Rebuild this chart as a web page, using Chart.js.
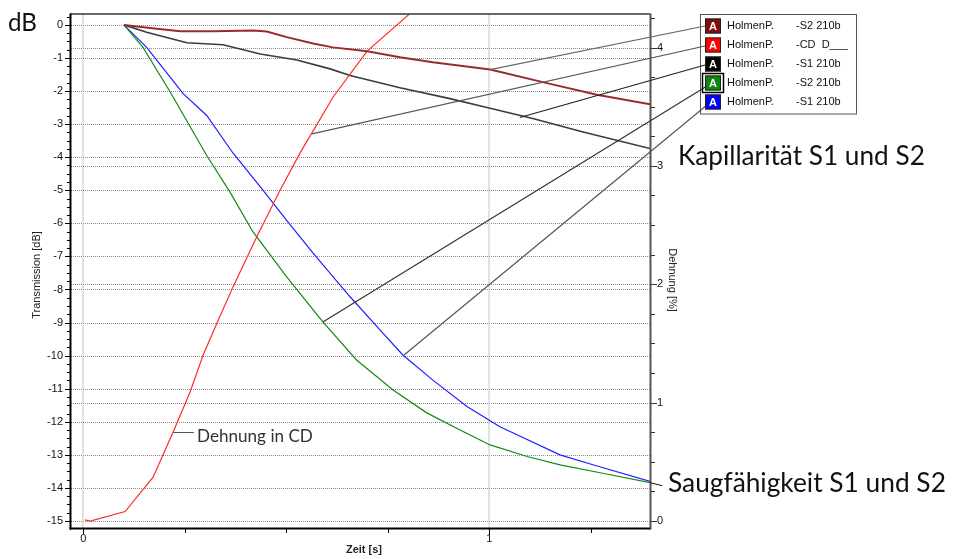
<!DOCTYPE html>
<html>
<head>
<meta charset="utf-8">
<script src="https://cdn.jsdelivr.net/npm/chart.js@4.4.1/dist/chart.umd.min.js"></script>
<style>
  html, body { margin: 0; padding: 0; background: #fff; overflow: hidden; }
  #wrap { width: 953px; height: 559px; position: relative; }
</style>
</head>
<body>
<div id="wrap"><canvas id="c" width="953" height="559"></canvas></div>
<script>
// Kapillarität S2 (HolmenP. -S2 210b): Zeit [s] / Transmission [dB]
const kapS2Time = [0.1, 0.181, 0.239, 0.319, 0.418, 0.452, 0.501, 0.566, 0.615, 0.699, 0.780, 0.861, 1.002, 1.142, 1.265, 1.396];
const kapS2Db   = [0, -0.12, -0.19, -0.19, -0.17, -0.20, -0.37, -0.56, -0.68, -0.80, -0.98, -1.13, -1.35, -1.76, -2.11, -2.40];

// Kapillarität S1 (HolmenP. -S1 210b)
const kapS1Time = [0.1, 0.156, 0.255, 0.344, 0.436, 0.526, 0.608, 0.657, 0.780, 0.903, 1.002, 1.107, 1.231, 1.396];
const kapS1Db   = [0, -0.22, -0.54, -0.60, -0.88, -1.06, -1.33, -1.53, -1.90, -2.23, -2.52, -2.83, -3.24, -3.74];

// Saugfähigkeit S2 (HolmenP. -S2 210b)
const saugS2Time = [0.1, 0.147, 0.214, 0.304, 0.361, 0.418, 0.501, 0.590, 0.673, 0.763, 0.846, 0.928, 1.002, 1.093, 1.174, 1.273, 1.396];
const saugS2Db   = [0, -0.68, -2.03, -3.95, -5.05, -6.26, -7.62, -8.98, -10.13, -11.04, -11.73, -12.25, -12.70, -13.05, -13.30, -13.54, -13.84];

// Saugfähigkeit S1 (HolmenP. -S1 210b)
const saugS1Time = [0.1, 0.156, 0.246, 0.304, 0.369, 0.436, 0.501, 0.566, 0.657, 0.738, 0.787, 0.861, 0.945, 1.026, 1.059, 1.174, 1.255, 1.396];
const saugS1Db   = [0, -0.68, -2.08, -2.74, -3.88, -4.90, -5.91, -6.90, -8.22, -9.32, -9.98, -10.74, -11.54, -12.15, -12.34, -13.00, -13.30, -13.80];

// Dehnung in CD (HolmenP. -CD D): Zeit [s] / Dehnung [%]
const dehnungTime = [0.004, 0.017, 0.103, 0.172, 0.221, 0.263, 0.295, 0.329, 0.369, 0.427, 0.484, 0.534, 0.615, 0.699, 0.809];
const dehnungPct  = [0.01, 0, 0.08, 0.37, 0.75, 1.09, 1.40, 1.67, 1.98, 2.40, 2.79, 3.11, 3.58, 3.97, 4.30];

// Axis ticks
const timeTicks = [0, 1];
const timeMinorTicks = [0.25, 0.5, 0.75, 1.25];
const dbTicks = [0, -1, -2, -3, -4, -5, -6, -7, -8, -9, -10, -11, -12, -13, -14, -15];
const pctTicks = [0, 1, 2, 3, 4];

// Legend rows
const legendNames = ['HolmenP.', 'HolmenP.', 'HolmenP.', 'HolmenP.', 'HolmenP.'];
const legendCodes = ['-S2 210b', '-CD  D___', '-S1 210b', '-S2 210b', '-S1 210b'];

const SANS = '"Liberation Sans", Arial, sans-serif';
const HUMAN = 'Lato, "Open Sans", sans-serif';

const toPts = (xs, ys) => xs.map((x, i) => ({ x, y: ys[i] }));

const series = [
  { data: toPts(kapS2Time, kapS2Db),   axis: 'y',  color: '#992b2b', width: 2,   icon: '#7d0f0f' },
  { data: toPts(dehnungTime, dehnungPct), axis: 'y1', color: '#ff2a2a', width: 1.2, icon: '#ff0000' },
  { data: toPts(kapS1Time, kapS1Db),   axis: 'y',  color: '#3c3c3c', width: 1.6, icon: '#000000' },
  { data: toPts(saugS2Time, saugS2Db), axis: 'y',  color: '#138a13', width: 1.2, icon: '#0a8a0a' },
  { data: toPts(saugS1Time, saugS1Db), axis: 'y',  color: '#1f1fff', width: 1.2, icon: '#0000ff' }
];

// Where each legend row's leader line meets its curve (x in s, value on the row's axis)
const leaderAnchors = [
  { x: 1.002, v: -1.35, axis: 'y' },
  { x: 0.563, v: 3.27,  axis: 'y1' },
  { x: 1.075, v: -2.80, axis: 'y' },
  { x: 0.590, v: -8.98, axis: 'y' },
  { x: 0.790, v: -9.98, axis: 'y' }
];
const leaderColors = ['#666', '#555', '#222', '#333', '#555'];

function fitSize(ctx, text, family, weight, width) {
  ctx.font = weight + ' 100px ' + family;
  return 100 * width / ctx.measureText(text).width;
}

const decorations = {
  id: 'decorations',
  beforeDatasetsDraw(chart) {
    const { ctx, chartArea: a, scales } = chart;
    ctx.save();
    // horizontal dotted grid for both value axes
    ctx.strokeStyle = '#8c8c8c';
    ctx.lineWidth = 1;
    ctx.setLineDash([1, 1]);
    const hline = (y) => {
      y = Math.round(y) + 0.5;
      ctx.beginPath(); ctx.moveTo(a.left, y); ctx.lineTo(a.right, y); ctx.stroke();
    };
    dbTicks.forEach(v => hline(scales.y.getPixelForValue(v)));
    pctTicks.forEach(v => hline(scales.y1.getPixelForValue(v)));
    // vertical grid at the labelled times
    ctx.strokeStyle = '#c6c6c6';
    ctx.lineWidth = 2;
    timeTicks.forEach(v => {
      const x = Math.round(scales.x.getPixelForValue(v));
      ctx.beginPath(); ctx.moveTo(x, a.top); ctx.lineTo(x, a.bottom); ctx.stroke();
    });
    ctx.restore();
  },
  afterDraw(chart) {
    const { ctx, chartArea: a, scales } = chart;
    const sx = scales.x, sy = scales.y, sy1 = scales.y1;
    ctx.save();
    ctx.setLineDash([]);

    // frame and axis lines
    ctx.strokeStyle = '#333'; ctx.lineWidth = 1.5;
    ctx.beginPath(); ctx.moveTo(a.left - 1, a.top - 0.5); ctx.lineTo(a.right, a.top - 0.5); ctx.stroke();
    ctx.strokeStyle = '#555'; ctx.lineWidth = 2;
    ctx.beginPath(); ctx.moveTo(a.right + 0.5, a.top - 1); ctx.lineTo(a.right + 0.5, a.bottom + 1.5); ctx.stroke();
    ctx.strokeStyle = '#000'; ctx.lineWidth = 2;
    ctx.beginPath(); ctx.moveTo(a.left - 0.5, a.top - 1); ctx.lineTo(a.left - 0.5, a.bottom + 1.5); ctx.stroke();
    ctx.beginPath(); ctx.moveTo(a.left - 1.5, a.bottom + 0.5); ctx.lineTo(a.right, a.bottom + 0.5); ctx.stroke();

    // tick marks
    ctx.lineWidth = 1;
    ctx.strokeStyle = '#000';
    const tickL = (v, len) => {
      const y = Math.round(sy.getPixelForValue(v)) + 0.5;
      ctx.beginPath(); ctx.moveTo(a.left - 1 - len, y); ctx.lineTo(a.left - 1, y); ctx.stroke();
    };
    for (let v = -15; v <= 0.3; v += 0.25) {
      if (Math.abs(v - Math.round(v)) > 1e-6) tickL(v, 3);
    }
    dbTicks.forEach(v => tickL(v, 5));

    ctx.strokeStyle = '#333';
    const tickR = (v, len) => {
      const y = Math.round(sy1.getPixelForValue(v)) + 0.5;
      ctx.beginPath(); ctx.moveTo(a.right + 1, y); ctx.lineTo(a.right + 1 + len, y); ctx.stroke();
    };
    for (let v = 0; v <= 4.25; v += 0.25) {
      if (Math.abs(v - Math.round(v)) > 1e-6) tickR(v, 4);
    }
    pctTicks.forEach(v => tickR(v, 6));

    ctx.strokeStyle = '#000';
    const tickB = (v, len) => {
      const x = Math.round(sx.getPixelForValue(v)) + 0.5;
      ctx.beginPath(); ctx.moveTo(x, a.bottom + 1); ctx.lineTo(x, a.bottom + 1 + len); ctx.stroke();
    };
    timeMinorTicks.forEach(v => tickB(v, 4));
    timeTicks.forEach(v => tickB(v, 5));

    // axis titles
    ctx.fillStyle = '#222';
    ctx.textAlign = 'center';
    ctx.textBaseline = 'middle';
    ctx.font = '11px ' + SANS;
    ctx.save(); ctx.translate(37, 275); ctx.rotate(-Math.PI / 2); ctx.fillText('Transmission [dB]', 0, 0); ctx.restore();
    ctx.save(); ctx.translate(672, 280); ctx.rotate(Math.PI / 2); ctx.fillText('Dehnung [%]', 0, 0); ctx.restore();
    ctx.font = 'bold 11px ' + SANS;
    ctx.fillText('Zeit [s]', 364, 550);

    // legend box
    const lg = { x: 700.5, y: 14.5, w: 156, h: 99.5, row0: 26, step: 19 };
    ctx.fillStyle = '#fff';
    ctx.fillRect(lg.x, lg.y, lg.w, lg.h);
    ctx.strokeStyle = '#555'; ctx.lineWidth = 1;
    ctx.strokeRect(lg.x, lg.y, lg.w, lg.h);

    // leader lines from legend rows to their curves
    const legendEnds = [[705, 26], [705, 46], [705, 65], [707, 86], [707, 105]];
    ctx.lineWidth = 1.2;
    leaderAnchors.forEach((p, i) => {
      const scale = p.axis === 'y1' ? sy1 : sy;
      ctx.strokeStyle = leaderColors[i];
      ctx.beginPath();
      ctx.moveTo(sx.getPixelForValue(p.x), scale.getPixelForValue(p.v));
      ctx.lineTo(legendEnds[i][0], legendEnds[i][1]);
      ctx.stroke();
    });

    // legend rows
    series.forEach((s, i) => {
      const cy = lg.row0 + i * lg.step;
      if (i === 3) {
        ctx.strokeStyle = '#000'; ctx.lineWidth = 1.5;
        ctx.strokeRect(702.5, cy - 9.5, 21, 19);
      }
      ctx.fillStyle = s.icon;
      ctx.fillRect(705, cy - 7.5, 16, 15);
      ctx.strokeStyle = '#222'; ctx.lineWidth = 1;
      ctx.strokeRect(705.5, cy - 7, 15, 14);
      ctx.fillStyle = '#fff';
      ctx.font = 'bold 11px ' + SANS;
      ctx.textAlign = 'center';
      ctx.fillText('A', 713, cy + 0.5);
      ctx.fillStyle = '#111';
      ctx.font = '11px ' + SANS;
      ctx.textAlign = 'left';
      ctx.fillText(legendNames[i], 727, cy);
      ctx.fillText(legendCodes[i], 796, cy);
    });

    // "Dehnung in CD" callout
    const dx = sx.getPixelForValue(0.221), dy = Math.round(sy1.getPixelForValue(0.75)) + 0.5;
    ctx.strokeStyle = '#555'; ctx.lineWidth = 1;
    ctx.beginPath(); ctx.moveTo(dx, dy); ctx.lineTo(194, dy); ctx.stroke();
    ctx.fillStyle = '#333';
    ctx.textAlign = 'left';
    ctx.font = fitSize(ctx, 'Dehnung in CD', HUMAN, 'normal', 116).toFixed(2) + 'px ' + HUMAN;
    ctx.fillText('Dehnung in CD', 197, 436);

    // "Saugfähigkeit" callout at the end of the absorption curves
    const ex = sx.getPixelForValue(1.396), ey = sy.getPixelForValue(-13.84);
    ctx.strokeStyle = '#111';
    ctx.beginPath(); ctx.moveTo(ex, ey); ctx.lineTo(ex + 12, ey + 3); ctx.stroke();

    // annotations
    ctx.fillStyle = '#111';
    ctx.font = fitSize(ctx, 'dB', HUMAN, 'normal', 29).toFixed(2) + 'px ' + HUMAN;
    ctx.fillText('dB', 8, 23);
    ctx.font = fitSize(ctx, 'Kapillarität S1 und S2', HUMAN, 'normal', 247).toFixed(2) + 'px ' + HUMAN;
    ctx.fillText('Kapillarität S1 und S2', 678, 157);
    ctx.font = fitSize(ctx, 'Saugfähigkeit S1 und S2', HUMAN, 'normal', 278).toFixed(2) + 'px ' + HUMAN;
    ctx.fillText('Saugfähigkeit S1 und S2', 668, 484);

    ctx.restore();
  }
};

const tickFont = { family: SANS, size: 11 };

new Chart(document.getElementById('c'), {
  type: 'line',
  data: {
    datasets: series.map(s => ({
      data: s.data,
      yAxisID: s.axis,
      borderColor: s.color,
      borderWidth: s.width,
      pointRadius: 0,
      tension: 0,
      fill: false
    }))
  },
  options: {
    responsive: false,
    animation: false,
    devicePixelRatio: 1,
    layout: { padding: { top: 14, left: 0, right: 0, bottom: 0 } },
    plugins: { legend: { display: false }, tooltip: { enabled: false } },
    scales: {
      x: {
        type: 'linear', position: 'bottom', min: -0.0303, max: 1.3958,
        afterBuildTicks: s => { s.ticks = timeTicks.map(v => ({ value: v })); },
        afterFit: s => { s.height = 31; },
        grid: { display: false, drawTicks: false },
        border: { display: false },
        ticks: { padding: 4, font: tickFont, color: '#111', maxRotation: 0, autoSkip: false, callback: v => String(v) }
      },
      y: {
        type: 'linear', position: 'left', min: -15.211, max: 0.311,
        afterBuildTicks: s => { s.ticks = dbTicks.map(v => ({ value: v })); },
        afterFit: s => { s.width = 71; },
        grid: { display: false, drawTicks: false },
        border: { display: false },
        ticks: { padding: 8, font: tickFont, color: '#111', autoSkip: false, callback: v => String(v) }
      },
      y1: {
        type: 'linear', position: 'right', min: -0.059, max: 4.278,
        afterBuildTicks: s => { s.ticks = pctTicks.map(v => ({ value: v })); },
        afterFit: s => { s.width = 303; },
        grid: { display: false, drawTicks: false },
        border: { display: false },
        ticks: { padding: 7, font: tickFont, color: '#111', autoSkip: false, callback: v => String(v) }
      }
    }
  },
  plugins: [decorations]
});
</script>
</body>
</html>
